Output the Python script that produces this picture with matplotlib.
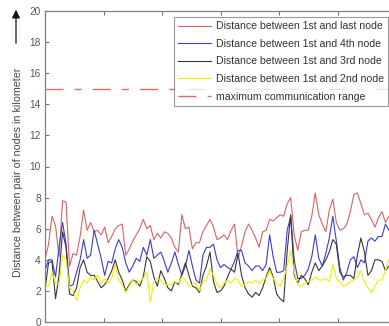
import matplotlib
matplotlib.use("Agg")
import matplotlib.pyplot as plt
import numpy as np

plt.rcParams['font.family'] = ['Liberation Sans', 'DejaVu Sans']

# one sample every 1.2 time units, 99 samples visible
step = 1.2
last_node = [4.0, 5.0, 6.8, 6.2, 4.2, 7.8, 7.7, 3.6, 4.4, 4.3,
             5.5, 7.2, 5.9, 6.4, 5.8, 5.9, 5.6, 6.1, 5.1, 5.5,
             6.0, 6.2, 6.3, 4.3, 4.7, 5.2, 5.6, 6.0, 6.6, 6.0,
             6.2, 5.3, 5.7, 5.4, 5.8, 5.7, 5.4, 4.8, 4.5, 6.9,
             6.0, 6.1, 4.7, 5.1, 5.1, 5.8, 6.2, 6.6, 6.1, 5.3,
             5.4, 5.6, 5.3, 5.9, 6.3, 4.1, 4.9, 5.8, 6.3, 5.9,
             5.4, 4.8, 5.8, 5.9, 6.6, 6.5, 6.7, 6.9, 6.8, 7.6,
             8.0, 5.6, 4.6, 5.8, 5.9, 5.9, 6.8, 8.3, 6.9, 6.3,
             5.8, 7.2, 7.9, 6.4, 5.9, 6.0, 6.3, 7.1, 8.2, 8.3,
             7.6, 6.9, 7.0, 6.6, 6.1, 6.7, 7.1, 6.4, 6.8]
fourth_node = [3.3, 4.0, 4.0, 2.9, 4.8, 6.4, 5.0, 2.3, 2.4, 3.2,
               4.0, 5.3, 4.1, 4.3, 5.9, 5.0, 4.1, 3.0, 3.9, 3.8,
               4.7, 5.3, 4.8, 3.8, 3.2, 3.6, 4.1, 3.9, 4.8, 4.3,
               5.3, 4.1, 4.3, 4.5, 3.9, 3.2, 3.8, 4.5, 3.7, 3.0,
               3.6, 4.6, 3.6, 2.7, 2.5, 4.3, 4.8, 4.8, 5.0, 4.0,
               3.5, 3.7, 3.5, 3.4, 3.9, 4.6, 4.6, 3.8, 3.6, 3.3,
               3.6, 3.6, 3.3, 3.7, 5.6, 4.2, 3.2, 3.2, 3.3, 5.9,
               6.8, 4.0, 2.8, 2.8, 3.0, 3.4, 4.2, 5.6, 4.1, 3.6,
               4.4, 5.4, 6.8, 5.2, 3.5, 2.7, 3.2, 4.0, 4.2, 3.5,
               4.0, 3.8, 5.2, 5.4, 5.2, 5.5, 5.5, 6.3, 5.9]
third_node = [2.1, 3.8, 3.9, 1.5, 3.0, 5.8, 4.8, 1.8, 1.7, 2.2,
              3.5, 4.0, 3.2, 3.0, 3.0, 2.6, 2.2, 2.4, 2.8, 3.3,
              4.0, 3.2, 2.7, 2.0, 2.4, 2.7, 2.6, 2.3, 2.9, 4.2,
              3.9, 2.9, 2.3, 3.3, 2.8, 2.2, 2.0, 2.6, 2.4, 3.1,
              3.8, 3.0, 2.3, 2.2, 1.9, 3.0, 3.6, 4.5, 2.6, 1.9,
              2.0, 2.3, 2.9, 3.4, 3.2, 4.4, 3.0, 2.2, 1.8, 1.6,
              1.9, 1.7, 2.2, 2.9, 3.5, 2.9, 1.8, 1.5, 1.3, 4.6,
              6.9, 3.0, 2.5, 3.0, 2.8, 2.4, 3.2, 3.8, 3.3, 3.6,
              4.0, 4.5, 5.3, 5.0, 3.2, 2.9, 3.0, 3.0, 2.8, 4.3,
              5.4, 4.5, 3.0, 3.3, 4.0, 4.0, 3.9, 3.3, 3.6]
second_node = [2.3, 2.3, 3.2, 2.5, 2.4, 4.3, 4.0, 2.2, 2.0, 1.4,
               2.2, 2.7, 2.5, 2.9, 2.7, 3.0, 2.5, 2.8, 2.5, 2.8,
               3.7, 2.7, 2.4, 1.9, 2.3, 2.7, 2.4, 2.6, 2.8, 3.2,
               1.3, 2.6, 2.8, 2.7, 2.4, 2.4, 2.4, 2.6, 2.5, 2.9,
               2.7, 2.3, 2.4, 2.5, 2.0, 2.6, 2.7, 3.4, 3.0, 2.4,
               2.2, 2.5, 2.7, 2.5, 2.8, 2.7, 2.3, 2.4, 2.6, 2.5,
               2.7, 2.5, 2.7, 2.8, 3.3, 2.8, 2.5, 2.3, 2.8, 3.6,
               4.6, 3.2, 2.4, 2.3, 2.5, 2.6, 2.7, 2.9, 2.7, 2.7,
               2.8, 2.6, 3.7, 2.8, 2.6, 2.3, 2.4, 2.6, 2.7, 2.9,
               3.3, 2.6, 2.2, 1.9, 2.3, 2.7, 2.7, 3.3, 4.0]
max_range = 15

labels = ['Distance between 1st and last node',
          'Distance between 1st and 4th node',
          'Distance between 1st and 3rd node',
          'Distance between 1st and 2nd node',
          'maximum communication range']
colors = ['#d86464', '#3c3cd2', '#383838', '#f2ee00', '#e06a6a']

t = np.arange(len(last_node)) * step

fig = plt.figure(figsize=(3.89, 3.26), dpi=100)
# axes runs past the right edge, like the cropped original
ax = fig.add_axes([45/389, 4/326, 409.5/389, 311/326])

series = [last_node, fourth_node, third_node, second_node]
for vals, c, lab in zip(series, colors[:4], labels[:4]):
    ax.plot(t, vals, color=c, lw=0.8, label=lab)
ax.axhline(max_range, color=colors[4], lw=1.0,
           linestyle=(0, (13, 8, 5, 8)), label=labels[4])

ax.set_xlim(0, 140)
ax.set_ylim(0, 20)
ax.set_xticks(np.arange(0, 141, 20))
ax.set_yticks(np.arange(0, 21, 2))
ax.tick_params(direction='in', length=3, width=0.8, color='#777777',
               labelsize=7.3, labelcolor='#555555', top=True, right=True,
               labelbottom=False, pad=3)
for sp in ax.spines.values():
    sp.set_color('#808080')
    sp.set_linewidth(0.9)

leg = ax.legend(loc='upper right', bbox_to_anchor=(388/389, 1 - 17/326),
                bbox_transform=fig.transFigure, fontsize=7.6, frameon=True,
                fancybox=False, edgecolor='#808080', handlelength=3.1,
                handletextpad=0.45, labelspacing=0.72, borderpad=0.4,
                borderaxespad=0)
leg.get_frame().set_linewidth(0.8)
for txt in leg.get_texts():
    txt.set_color('#333333')

fig.text(18/389, 1 - 172/326, 'Distance between pair of nodes in kilometer',
         rotation=90, ha='center', va='center', fontsize=7.7, color='#444444')
# arrow above the label
ax.annotate('', xy=(16/389, 1 - 7/326), xytext=(16/389, 1 - 46/326),
            xycoords='figure fraction', textcoords='figure fraction',
            arrowprops=dict(arrowstyle='-|>', color='#111111', lw=0.9,
                            mutation_scale=12))

fig.savefig('out.png', dpi=100)
